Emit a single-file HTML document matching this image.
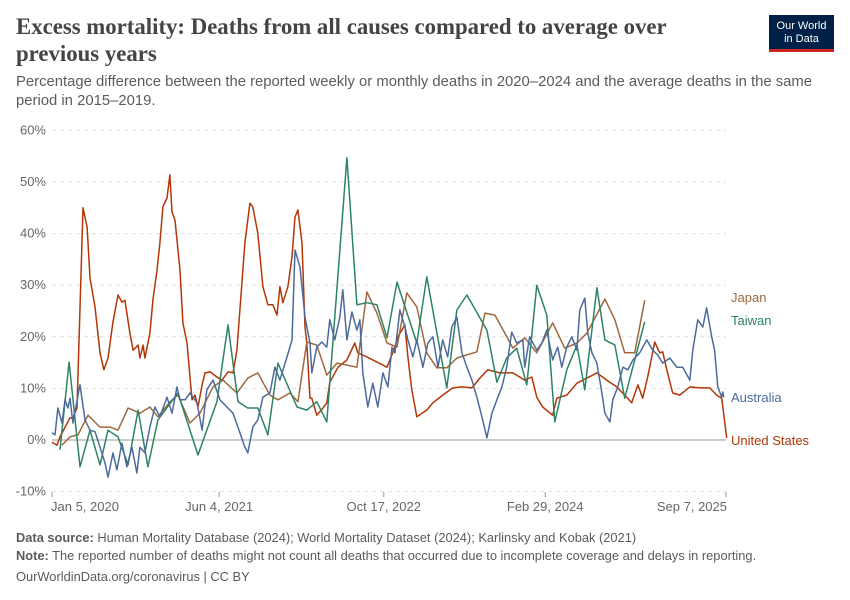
<!DOCTYPE html>
<html><head><meta charset="utf-8"><style>
body{margin:0;background:#fff;font-family:"Liberation Sans",sans-serif;}
#wrap{position:relative;width:850px;height:600px;overflow:hidden;}
.t{position:absolute;white-space:nowrap;}
</style></head><body>
<div id="wrap">
<div class="t" style="left:16px;top:13px;font-family:'Liberation Serif',serif;font-size:22.8px;font-weight:bold;color:#444;line-height:27px;">Excess mortality: Deaths from all causes compared to average over<br>previous years</div>
<div class="t" style="left:16px;top:73px;font-size:14.85px;color:#5b5b5b;line-height:19px;">Percentage difference between the reported weekly or monthly deaths in 2020–2024 and the average deaths in the same<br>period in 2015–2019.</div>
<div style="position:absolute;left:769px;top:15px;width:65px;height:37px;background:#002147;border-bottom:3px solid #ce261e;color:#fff;font-size:11px;text-align:center;line-height:13px;padding-top:5px;box-sizing:border-box;">Our World<br>in Data</div>
<svg id="chart" width="850" height="600" style="position:absolute;left:0;top:0;font-family:'Liberation Sans',sans-serif;"></svg>
<div class="t" style="left:16px;top:530px;font-size:12.85px;color:#5b5b5b;"><b>Data source:</b> Human Mortality Database (2024); World Mortality Dataset (2024); Karlinsky and Kobak (2021)</div>
<div class="t" style="left:16px;top:548px;font-size:12.85px;color:#5b5b5b;"><b>Note:</b> The reported number of deaths might not count all deaths that occurred due to incomplete coverage and delays in reporting.</div>
<div class="t" style="left:16px;top:569px;font-size:12.85px;color:#5b5b5b;">OurWorldinData.org/coronavirus | CC BY</div>
</div>
<script>
const yTicks=[-10,0,10,20,30,40,50,60];
const xTickWeeks=[0,73.4,145.7,216.6,296];
const xTickLabels=["Jan 5, 2020","Jun 4, 2021","Oct 17, 2022","Feb 29, 2024","Sep 7, 2025"];
const seriesNames=["Japan","Taiwan","Australia","United States"];
const usWeeks=[0,2.2,3.5,7.9,9.2,11,13.6,15.4,16.7,18.9,21.1,22.8,24.6,26.8,29,30.7,32,34.2,35.6,37.8,38.6,40,40.8,43,44.3,46.1,47.4,48.7,50.5,51.8,52.7,54,56.2,57.5,59.3,61.5,62.8,64.1,65.9,67.2,69.4,72.4,74.6,77.3,79.5,81.2,82.5,84.7,86.9,88.2,90.4,92.6,94.8,97,98.8,100.1,101.4,103.6,105.4,106.7,108,109.8,111.1,111.9,113.3,114.1,116.3,119,120.7,122,125.6,129.5,133,134.3,138.3,142.7,147.1,150.6,151.9,155,156.3,158,160.2,164.6,167.3,171.6,176,180,184.4,187.9,191.4,196.7,202.4,207.6,210.7,212.9,215.5,219.9,221.7,226.1,230.5,234.9,239.3,243.6,248,251.5,254.6,257.3,259.4,261.6,264.7,266.9,268.2,270,272.6,275.7,280.1,284.5,288.9,291.9,294.1,296.3];
const usValues=[-0.4,-1,0.6,4.3,4.3,6.2,45,41.3,31.4,25.8,16.9,13.6,15.9,22.9,28.1,26.7,27.1,20.7,17.4,18.4,15.9,18.4,15.9,20.7,27.1,32.9,38.2,45.2,46.9,51.4,44.2,42.6,32.9,22.7,18.8,7.8,8.7,6.4,10.7,13,13.2,12.2,11.6,13.2,13,17.4,25.2,38.2,45.9,45.2,40.1,29.7,26.2,26.2,24.2,29.7,26.6,29.7,35.5,43.2,44.6,38.2,21.9,18.8,8.1,8.1,4.8,6.2,7.2,11.2,14.1,15.5,18.8,16.9,16.1,15.1,14.1,18,20,22.3,16.1,9.7,4.5,5.8,7.2,8.7,10.1,10.3,10.1,12,13.6,13,13,11.6,12.2,8.3,6.4,4.8,8.1,8.7,11,12,13,11.6,10.3,8.7,7.2,10.7,8.1,12.2,19,16.9,17.1,13.6,9.1,8.7,10.3,10.1,10.1,8.7,8.1,0.4];
const auWeeks=[0,1.3,2.6,4.4,5.7,7,7.9,9.2,12.3,14.5,16.7,18.9,21.1,23.3,24.6,26.8,28.5,30.7,32.9,35.1,37.3,38.6,40.8,43,45.2,47.4,50.5,52.7,54.9,56.2,58.4,60.6,63.7,65.9,68,70.7,73.8,76.8,79.5,82.5,84.7,86,88.2,90.4,92.6,95.7,97.9,100.1,103.2,105.4,106.7,108.9,111.1,113.3,114.1,116.3,118.5,120.7,122,124.2,126.4,127.7,129.5,131.7,133.9,135.2,136.5,138.7,140.9,143.1,145.3,147.5,149.3,150.6,152.8,155,156.3,158.5,160.2,162.9,165.1,167.3,169.5,171.6,173.8,175.6,177.8,180,182.2,184.4,186.6,188.8,191,193.2,195.4,197.6,199.7,201.9,204.1,206.8,207.6,209.8,212.9,215.1,217.3,219.9,222.1,223.9,226.1,228.3,230.5,231.8,234,235.3,237.1,239.3,241.5,242.8,245,246.3,248.5,250.7,252.9,255.1,258.1,261.2,263.8,266,268.2,271.3,274.4,277,280.1,281.4,283.6,285.8,287.5,289.7,291,292.4,294.1,294.6,295];
const auValues=[1.4,1,6.2,3.3,7.8,6.2,8.1,3.3,10.7,3.9,1.9,1.6,-1.4,-4.5,-7.2,-2.5,-5.8,-0.6,-5.2,-1.4,-6.4,-1.4,-2.5,2.5,6.4,4.5,8.3,5.2,10.3,7.8,7.8,9.1,7.2,1.9,9.7,11.6,7.8,6.4,5.2,1.4,-1.4,-2.5,2.5,3.9,8.3,9.1,14.1,11.6,16.1,19.4,36.8,33.5,23.8,18.8,13,18,19,18,23.3,19.4,23.8,29.1,19.4,24.8,21.3,23.3,13,6.4,11,6.4,13,10.3,18,16.9,25.2,21.9,19.4,16.1,19.4,14.1,18.8,20,14.1,19.4,16.1,21.9,23.8,16.9,14.1,11.6,8.3,4.5,0.4,5.2,7.8,10.3,14.1,20.9,18.8,19.4,14.1,20,17.4,18.8,21.3,15.5,18,14.1,18,20,17.4,25.2,27.5,20.7,16.9,14.9,9.1,5.2,3.5,7.8,10.3,14.1,13.6,15.5,16.9,19.4,17.4,16.5,14.9,15.9,14.1,14.1,11.6,17.4,23.3,21.9,25.6,20,17.4,10.3,8.3,9.3,8.3];
const jpWeeks=[4.4,7.9,11.4,15.8,21.1,25.5,29,33.4,38.6,43,46.5,51.8,55.3,60.6,65,70.7,75.1,81.2,86,90.4,95.7,99.2,104.5,108,111.9,116.3,120.7,125.1,133.9,138.3,142.7,147.1,151.5,155.8,160.2,164.6,169,173.4,177.8,182.2,186.6,190.1,194.5,198.9,202.4,207.6,212.9,219.9,225.2,230.5,234.9,242.8,247.2,251.5,255.9,260.3];
const jpValues=[-1,0.6,1,4.8,2.5,2.5,1.9,6.2,5.2,6.4,4.5,7.4,8.7,3.3,5.2,10.3,11.6,9.1,12,13,8.7,7.8,9.1,7.4,19,18.4,12.6,14.9,14.1,28.7,24.6,18.8,18,28.5,25.8,16.9,14,14,15.9,16.5,17.1,24.6,24.2,20.7,17.8,19.8,16.9,22.7,17.8,18.8,20.7,27.3,23.3,16.9,16.9,27.1];
const twWeeks=[3.5,7.5,12.3,16.7,21.1,24.6,29,33.4,37.8,42.1,46.5,55.3,64.1,72.4,77.3,81.7,86,90.4,94.8,99.2,107.6,111.9,116.3,120.7,129.5,133.9,138.3,142.7,147.1,151.5,160.2,164.6,173.4,177.8,182.2,191,195.4,199.7,204.1,208.5,212.9,217.3,220.8,226.1,230.5,234,239.3,242.8,247.2,251.5,260.3];
const twValues=[-1.9,15.1,-5.2,1.9,-4.8,1.9,0.6,-4.8,5.8,-5.2,3.9,9.1,-2.9,7.4,22.3,7.4,6.2,6.2,1,14.9,6.4,5.8,7.4,3.5,54.7,26.2,26.6,26.2,19.8,30.6,18.8,31.6,10.1,25.2,28.1,21.3,11.2,15.9,17.8,10.7,30,24.2,3.5,13.6,18.4,9.7,29.5,19.4,18.4,8.1,22.9];

const svg=document.getElementById('chart');
const NS='http://www.w3.org/2000/svg';
const X0=52,X1=726,W0=0,W1=296,Y0=440,YPX=5.16;
const xs=w=>X0+(w-W0)/(W1-W0)*(X1-X0);
const ys=v=>Y0-v*YPX;
function mk(tag,attrs){const e=document.createElementNS(NS,tag);for(const k in attrs)e.setAttribute(k,attrs[k]);svg.appendChild(e);return e;}
yTicks.forEach(t=>{
  const l=mk('line',{x1:X0,x2:X1,y1:ys(t),y2:ys(t),stroke:t===0?'#999':'#ddd','stroke-width':1,'stroke-dasharray':t===0?'none':'4,4'});
  
  
  const tx=mk('text',{x:46,y:ys(t)+4,'text-anchor':'end','font-size':13,fill:'#666'});
  tx.textContent=t+'%';
  
  
});
xTickWeeks.forEach((w,i)=>{
  const tk=mk('line',{x1:xs(w),x2:xs(w),y1:492,y2:497,stroke:'#999'});
  
  
  const tx=mk('text',{x:xs(w),y:511,'text-anchor':i===0?'start':(i===xTickWeeks.length-1?'end':'middle'),'font-size':13,fill:'#666'});
  if(i===0)tx.setAttribute('x',xs(w)-1);
  if(i===xTickWeeks.length-1)tx.setAttribute('x',xs(w)+1);
  tx.textContent=xTickLabels[i];
  
  
});
const series=[
 [usWeeks,usValues,'#b43607','us-line'],
 [jpWeeks,jpValues,'#a0683e','japan-line'],
 [twWeeks,twValues,'#2c8465','taiwan-line'],
 [auWeeks,auValues,'#4c6a9c','australia-line']];
series.forEach(s=>{
  const d=s[0].map((w,i)=>(i?'L':'M')+xs(w).toFixed(1)+','+ys(s[1][i]).toFixed(1)).join('');
  const p=mk('path',{d:d,fill:'none',stroke:s[2],'stroke-width':1.5,'stroke-linejoin':'round'});
  
  
});
const labelY=[298,321,398,441];
const labelCol=['#a0683e','#2c8465','#4c6a9c','#b43607'];
seriesNames.forEach((n,i)=>{
  const t=mk('text',{x:731,y:labelY[i]+4,'font-size':13,fill:labelCol[i]});
  t.textContent=n;
  
  
});
</script>
</body></html>
